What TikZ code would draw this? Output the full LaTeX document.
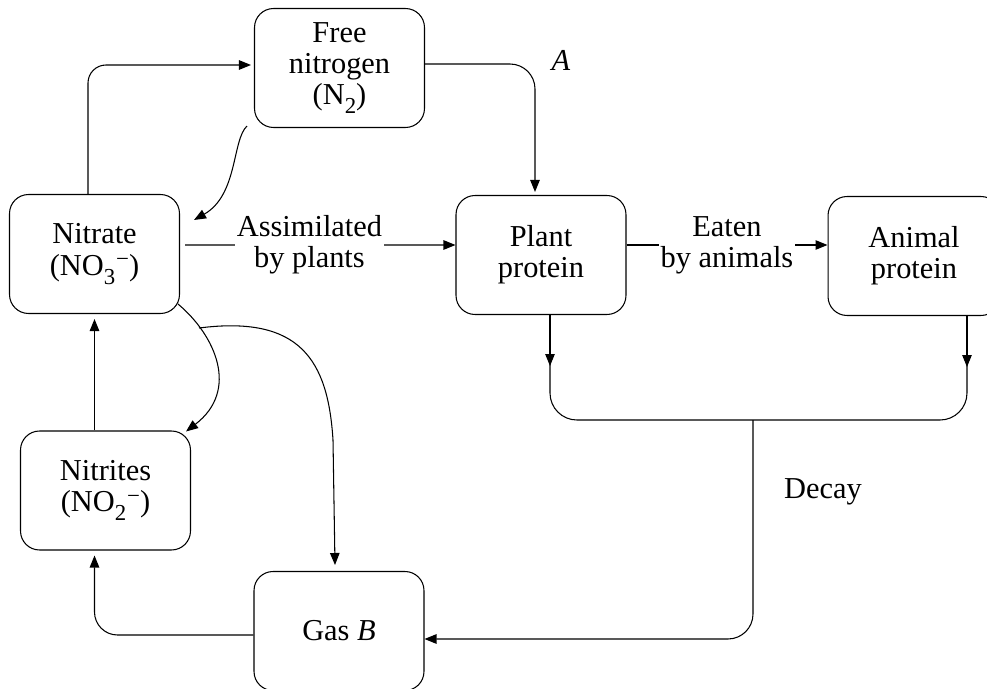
\documentclass[tikz,border=0pt]{standalone}
\usepackage{fontspec}
\setmainfont{Liberation Serif}
\usetikzlibrary{arrows.meta}
\newcommand{\chemsub}[1]{\raisebox{-0.3em}{\fontsize{13}{13}\selectfont #1}}
\newcommand{\chemminus}{\kern0.6pt\raisebox{0.28em}{\fontsize{13}{13}\selectfont −}}

\begin{document}
\begin{tikzpicture}[x=0.02cm, y=-0.02cm, line width=0.6pt,
    font=\fontsize{17.3}{17.8}\selectfont,
    box/.style={draw, rounded corners=0.38cm, minimum width=3.4cm, minimum height=2.38cm, align=center, inner sep=0pt},
    arr/.style={-{Triangle[length=0.24cm, width=0.19cm]}},
    lbl/.style={fill=white, align=center, inner sep=1pt}]
    \useasboundingbox (0,0) rectangle (987,689);

    % boxes
    \node[box] (free) at (339.5,68) {Free\\nitrogen\\(N\chemsub{2})};
    \node[box] (nitrate) at (94.5,254) {Nitrate\\(NO\chemsub{3}\chemminus)};
    \node[box] (plant) at (541,255) {Plant\\protein};
    \node[box, minimum width=3.44cm] (animal) at (914,256) {Animal\\protein};
    \node[box] (nitrites) at (105.5,490.5) {Nitrites\\(NO\chemsub{2}\chemminus)};
    \node[box] (gas) at (339,631) {Gas \textit{B}};

    % labels
    \node (lblA) at (561,60) {\textit{A}};
    \node (lbldecay) at (823,492) {Decay};

    % top loop
    \draw[arr, rounded corners=0.36cm, shorten >=0.06cm] ([xshift=-0.13cm]nitrate.north) |- ([yshift=0.06cm]free.west);
    \draw[arr, rounded corners=0.5cm, shorten >=0.06cm] ([yshift=0.08cm]free.east) -| ([xshift=-0.12cm]plant.north);
    \draw[arr] ([shift={(-7,-2)}]free.south west) .. controls (232,140) and (238,195) .. ([shift={(14,26)}]nitrate.north east);

    % feeding
    \draw[arr, shorten <=0.1cm] ([yshift=0.18cm]nitrate.east) -- node[lbl, pos=0.47] {Assimilated\\by plants} ([yshift=0.2cm]plant.west);
    \draw[arr] ([yshift=0.2cm]plant.east) -- node[lbl] {Eaten\\by animals} ([yshift=0.22cm]animal.west);

    % decay
    \coordinate (decay) at (753,420);
    \draw[rounded corners=0.54cm] ([xshift=0.18cm]plant.south) -- ++(0,105) -| ([xshift=1.06cm]animal.south);
    \draw[arr] ([xshift=0.18cm]plant.south) -- ++(0,51);
    \draw[arr] ([xshift=1.06cm]animal.south) -- ++(0,51);
    \draw[arr, rounded corners=0.5cm] (decay) |- ([yshift=-0.16cm]gas.east);

    % bottom loop
    \draw[arr, rounded corners=0.46cm, shorten >=0.1cm] ([yshift=-0.08cm]gas.west) -| (nitrate.south |- nitrites.south);
    \draw[arr, shorten >=0.1cm] (nitrites.north -| nitrate.south) -- (nitrate.south);
    \draw[arr] ([shift={(-2,-10)}]nitrate.south east) .. controls (215,335) and (240,390) .. ([shift={(-5,1)}]nitrites.north east);
    \draw[arr] ([shift={(19,14)}]nitrate.south east) .. controls (300,315) and (328,360) .. (333,440) -- ([shift={(-4,-6)}]gas.north);
\end{tikzpicture}
\end{document}
